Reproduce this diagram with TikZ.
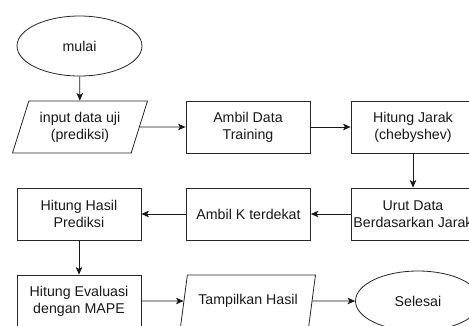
\documentclass[tikz,border=0pt]{standalone}
\usepackage{fontspec}
\setmainfont{Liberation Sans}
\usetikzlibrary{shapes.geometric,arrows.meta}
\begin{document}
\begin{tikzpicture}[x=1pt,y=-1pt,
  base/.style={font=\fontsize{14.2}{17}\selectfont, align=center, draw=black!85, line width=0.8pt, inner sep=0pt, text=black!90},
  proc/.style={base, rectangle, minimum width=124pt, minimum height=52pt},
  term/.style={base, ellipse, minimum width=125pt, minimum height=60pt},
  io/.style={base, trapezium, trapezium left angle=67, trapezium right angle=113, trapezium stretches=true, minimum width=135pt, minimum height=52pt},
  conn/.style={draw=black!90, line width=0.8pt, -{Stealth[length=7.5pt,width=6.5pt,inset=1.8pt]}}]
\fill[white] (0,0) rectangle (469,325);
\useasboundingbox (0,0) rectangle (469,325);
\node[term] (mulai) at (79.5,46) {mulai};
\node[io] (input) at (80,127) {input data uji\\(prediksi)};
\node[proc] (ambil) at (248,127) {Ambil Data\\Training};
\node[proc] (jarak) at (413,127) {Hitung Jarak\\(chebyshev)};
\node[proc] (urut) at (413,214) {Urut Data\\Berdasarkan Jarak};
\node[proc] (ambilk) at (248.5,214) {Ambil K terdekat};
\node[proc] (hasil) at (79,214) {Hitung Hasil\\Prediksi};
\node[proc] (eval) at (79,301) {Hitung Evaluasi\\dengan MAPE};
\node[io] (tampil) at (248,301) {Tampilkan Hasil};
\node[term] (selesai) at (418,301) {Selesai};
\draw[conn] (mulai) -- (input);
\draw[conn] (input) -- (ambil);
\draw[conn] (ambil) -- (jarak);
\draw[conn] (jarak) -- (urut);
\draw[conn] (urut) -- (ambilk);
\draw[conn] (ambilk) -- (hasil);
\draw[conn] (hasil) -- (eval);
\draw[conn] (eval) -- (tampil);
\draw[conn] (tampil) -- (selesai);
\end{tikzpicture}
\end{document}
